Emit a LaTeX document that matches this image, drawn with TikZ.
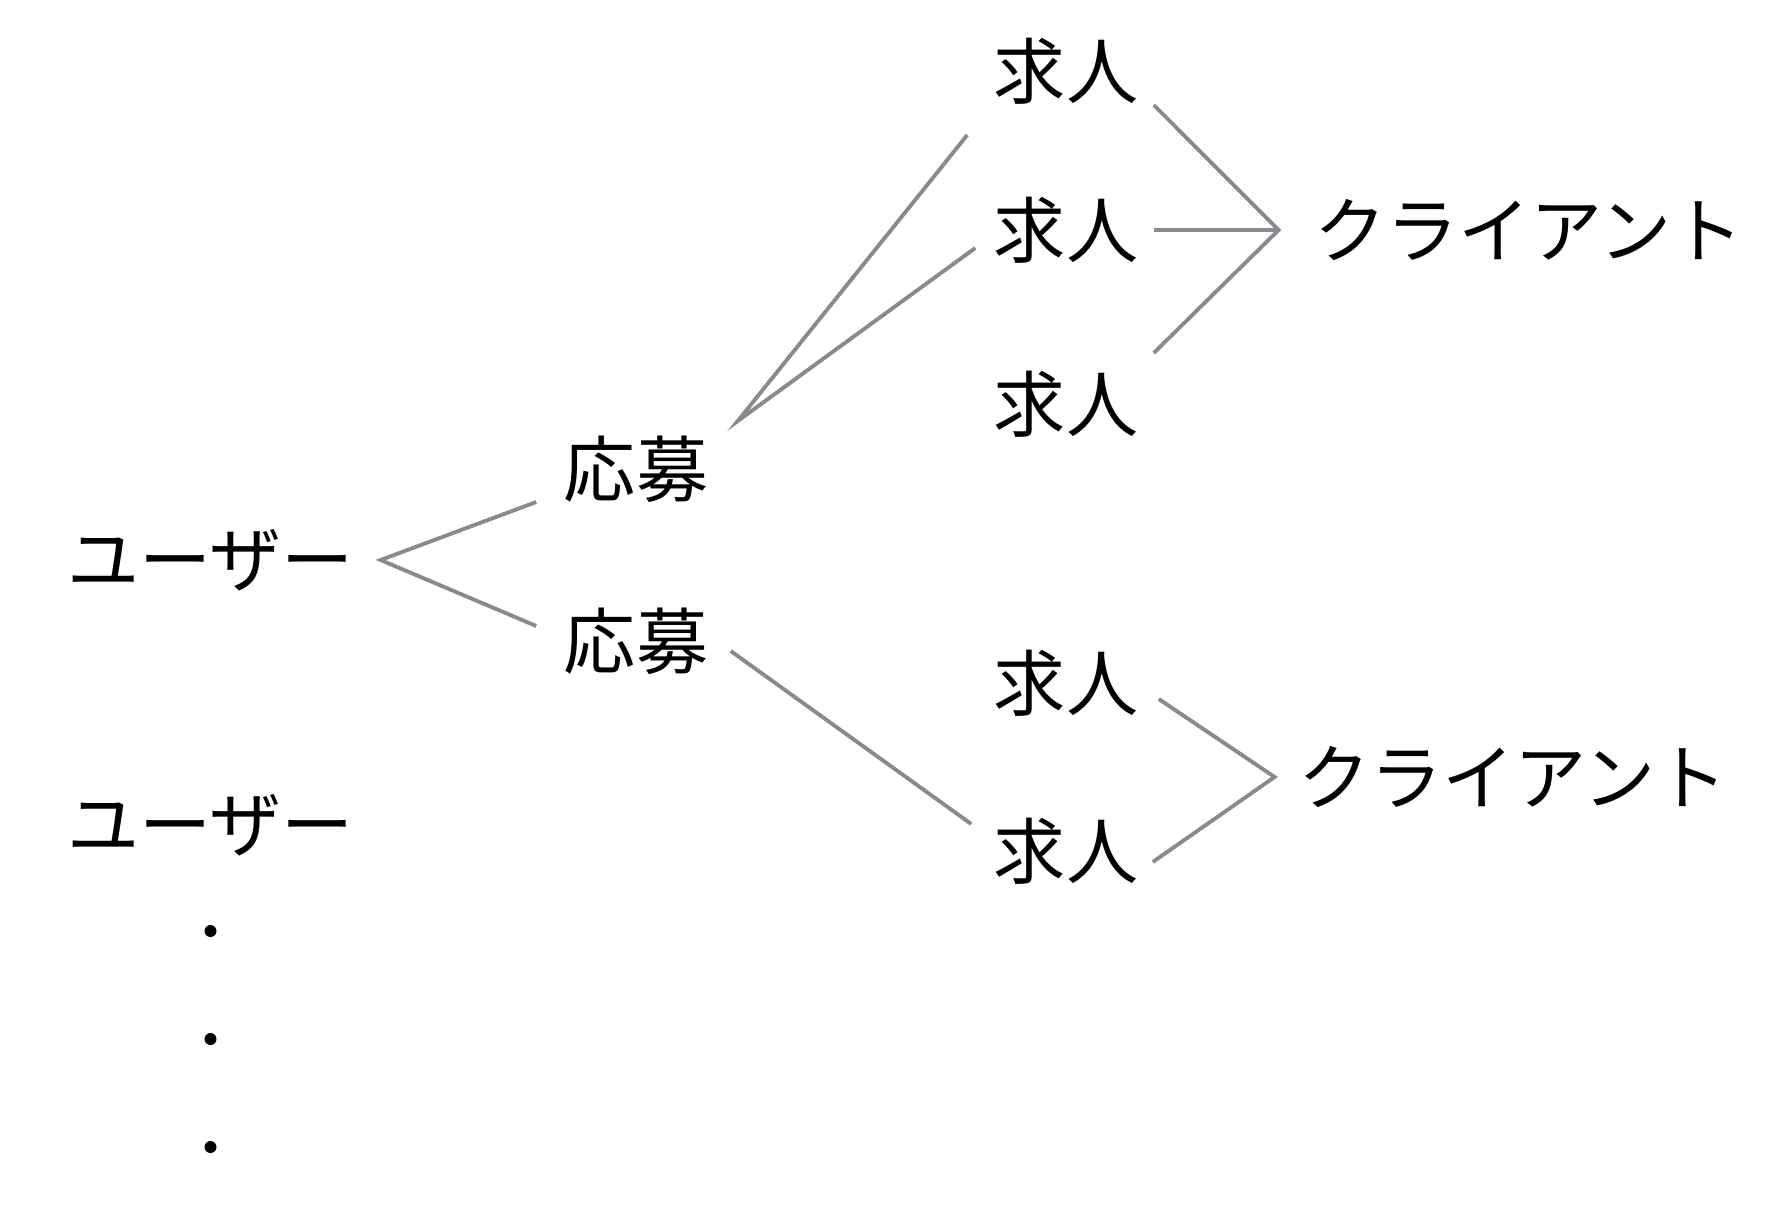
\documentclass[tikz,border=0pt]{standalone}
\usepackage{fontspec}
\newfontfamily\jp{Noto Sans CJK JP}
\definecolor{linkgray}{HTML}{8A8A8E}
\tikzset{
   word/.style={inner sep=0pt, font=\jp\fontsize{20.5pt}{24pt}\selectfont},
   link/.style={draw=linkgray, line width=1.1pt},
}
\begin{document}
\begin{tikzpicture}
   \useasboundingbox (0,0) rectangle (17.84,-12.12);
   % users
   \node[word] (U1) at (2.105,-5.60) {ユーザー};
   \node[word] (U2) at (2.105,-8.25) {ユーザー};
   \foreach \i in {1,2,3} {
      \node[circle, fill, inner sep=0pt, minimum size=0.12cm] (D\i) at (2.105,-8.23-1.08*\i) {};
   }
   % applications
   \node[word] (O1) at (6.36,-4.69) {応募};
   \node[word] (O2) at (6.36,-6.41) {応募};
   % jobs
   \foreach \i/\y in {1/-0.71,2/-2.30,3/-4.04,4/-6.83,5/-8.51} {
      \node[word] (J\i) at (10.66,\y) {求人};
   }
   % clients
   \node[word] (C1) at (15.29,-2.30) {クライアント};
   \node[word] (C2) at (15.13,-7.77) {クライアント};

   \draw[link] ([shift={(-0.27,-0.33)}]O1.west) -- ([xshift=0.26cm]U1.east) -- ([shift={(-0.27,0.15)}]O2.west);
   \draw[link] ([shift={(-0.26,-0.64)}]J1.west) -- ([shift={(0.29,0.48)}]O1.east) -- ([shift={(-0.18,-0.18)}]J2.west);
   \draw[link] ([shift={(0.22,-0.10)}]O2.east) -- ([shift={(-0.22,0.27)}]J5.west);

   \draw[link] ([shift={(0.15,-0.34)}]J1.east) -- ([xshift=-0.35cm]C1.west) -- ([shift={(0.15,0.51)}]J3.east);
   \draw[link] ([xshift=0.15cm]J2.east) -- ([xshift=-0.35cm]C1.west);
   \draw[link] ([shift={(0.20,-0.16)}]J4.east) -- ([xshift=-0.23cm]C2.west) -- ([shift={(0.14,-0.11)}]J5.east);
\end{tikzpicture}
\end{document}
